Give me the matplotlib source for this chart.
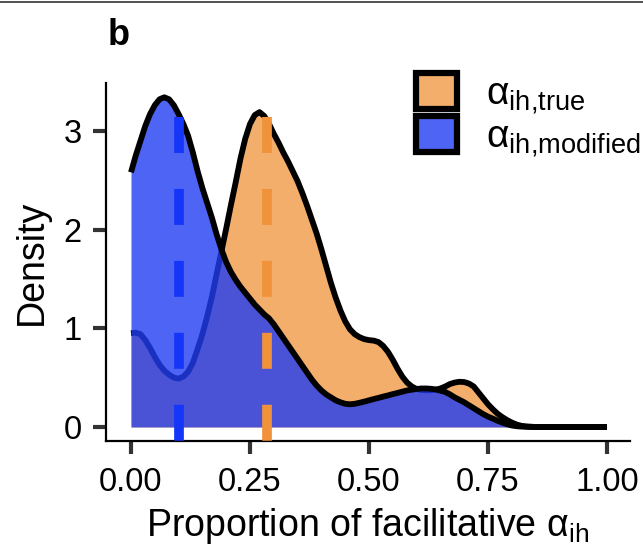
import numpy as np
import matplotlib
matplotlib.use("Agg")
import matplotlib.pyplot as plt
from matplotlib.patches import Patch
from matplotlib.lines import Line2D

plt.rcParams["font.family"] = ["Liberation Sans", "DejaVu Sans"]
plt.rcParams["mathtext.fontset"] = "custom"
plt.rcParams["mathtext.rm"] = "Liberation Sans"
plt.rcParams["mathtext.it"] = "Liberation Sans:italic"
plt.rcParams["mathtext.bf"] = "Liberation Sans:bold"

# kernel density of the proportion of facilitative interactions, on a 0.01 grid
grid = np.round(np.arange(0, 1.0001, 0.01), 2)
dens_true = [
    0.95, 0.955, 0.94, 0.88, 0.80, 0.71, 0.63, 0.57, 0.53, 0.50,
    0.49, 0.51, 0.56, 0.65, 0.79, 0.94, 1.12, 1.32, 1.55, 1.78,
    2.01, 2.25, 2.48, 2.72, 2.92, 3.07, 3.16, 3.19, 3.15, 3.07,
    2.97, 2.88, 2.78, 2.69, 2.59, 2.49, 2.37, 2.24, 2.10, 1.96,
    1.80, 1.63, 1.46, 1.31, 1.18, 1.07, 0.99, 0.94, 0.91, 0.89,
    0.88, 0.875, 0.86, 0.82, 0.76, 0.68, 0.59, 0.51, 0.45, 0.41,
    0.385, 0.375, 0.372, 0.372, 0.378, 0.39, 0.41, 0.435, 0.45, 0.458,
    0.455, 0.44, 0.41, 0.35, 0.29, 0.23, 0.18, 0.135, 0.10, 0.07,
    0.045, 0.025, 0.012, 0.006, 0.003, 0, 0, 0, 0, 0,
    0, 0, 0, 0, 0, 0, 0, 0, 0, 0,
    0]
dens_modified = [
    2.58, 2.75, 2.90, 3.05, 3.17, 3.26, 3.32, 3.34, 3.32, 3.26,
    3.17, 3.07, 2.95, 2.78, 2.59, 2.42, 2.27, 2.12, 1.95, 1.80,
    1.67, 1.57, 1.49, 1.42, 1.36, 1.30, 1.24, 1.19, 1.14, 1.10,
    1.04, 0.97, 0.90, 0.83, 0.76, 0.69, 0.62, 0.55, 0.48, 0.42,
    0.37, 0.33, 0.30, 0.27, 0.25, 0.235, 0.23, 0.235, 0.245, 0.257,
    0.27, 0.283, 0.295, 0.308, 0.32, 0.333, 0.345, 0.358, 0.37, 0.378,
    0.385, 0.39, 0.39, 0.387, 0.38, 0.368, 0.355, 0.33, 0.30, 0.275,
    0.25, 0.22, 0.19, 0.16, 0.13, 0.105, 0.085, 0.063, 0.045, 0.028,
    0.015, 0.008, 0.004, 0.002, 0, 0, 0, 0, 0, 0,
    0, 0, 0, 0, 0, 0, 0, 0, 0, 0,
    0]
mean_true = 0.286
mean_modified = 0.101
mean_line_top = 3.14

col_true = "#F4AE6B"
col_modified = "#203DF2"
col_modified_key = "#4D64F5"
col_mean_true = "#F0923A"
col_mean_modified = "#1536F8"

fig = plt.figure(figsize=(6.43, 5.47), dpi=100)
ax = fig.add_axes([106 / 643, 1 - 441 / 547, (630 - 106) / 643, (441 - 83) / 547])

ax.fill_between(grid, 0, dens_true, color=col_true, lw=0, zorder=1)
ax.plot(grid, dens_true, color="black", lw=4.2, solid_joinstyle="round",
        solid_capstyle="butt", zorder=2)
ax.fill_between(grid, 0, dens_modified, color=col_modified, alpha=0.8, lw=0, zorder=3)
ax.plot(grid, dens_modified, color="black", lw=4.2, solid_joinstyle="round",
        solid_capstyle="butt", zorder=4)

ymin, ymax = -0.142, 3.485
for m, c in [(mean_modified, col_mean_modified), (mean_true, col_mean_true)]:
    ax.plot([m, m], [mean_line_top, ymin], color=c, lw=7,
            linestyle=(0, (3.7, 3.7)), zorder=5, clip_on=False)

ax.set_xlim(-0.0525, 1.0483)
ax.set_ylim(ymin, ymax)
ax.set_xticks([0, 0.25, 0.5, 0.75, 1.0])
ax.set_xticklabels(["0.00", "0.25", "0.50", "0.75", "1.00"])
ax.set_yticks([0, 1, 2, 3])

for side in ["top", "right"]:
    ax.spines[side].set_visible(False)
for side in ["left", "bottom"]:
    ax.spines[side].set_linewidth(1.6)
    ax.spines[side].set_color("black")

ax.tick_params(axis="both", length=9.5, width=3, color="#333333",
               labelsize=23.5, labelcolor="black")
ax.tick_params(axis="x", pad=9)
ax.tick_params(axis="y", pad=8)

ax.set_xlabel(r"Proportion of facilitative $\mathrm{\alpha}_{\mathrm{ih}}$", fontsize=27, labelpad=6)
ax.set_ylabel("Density", fontsize=27, labelpad=10)

handles = [Patch(facecolor=col_true, edgecolor="black", lw=4.5),
           Patch(facecolor=col_modified_key, edgecolor="black", lw=4.5)]
labels = [r"$\mathrm{\alpha}_{\text{ih,true}}$", r"$\mathrm{\alpha}_{\text{ih,modified}}$"]
fig.legend(handles, labels, loc="upper left", bbox_to_anchor=(416 / 643, 1 - 73 / 547),
           frameon=False, borderpad=0, fontsize=28, handlelength=1.05, handleheight=1.05,
           handletextpad=0.75, labelspacing=0.0, borderaxespad=0)

fig.text(108 / 643, 1 - 45 / 547, "b", fontsize=26, fontweight="bold")
fig.add_artist(Line2D([0, 1], [1 - 2 / 547, 1 - 2 / 547], color="#333333", lw=1.2))

fig.savefig("out.png", dpi=100)
